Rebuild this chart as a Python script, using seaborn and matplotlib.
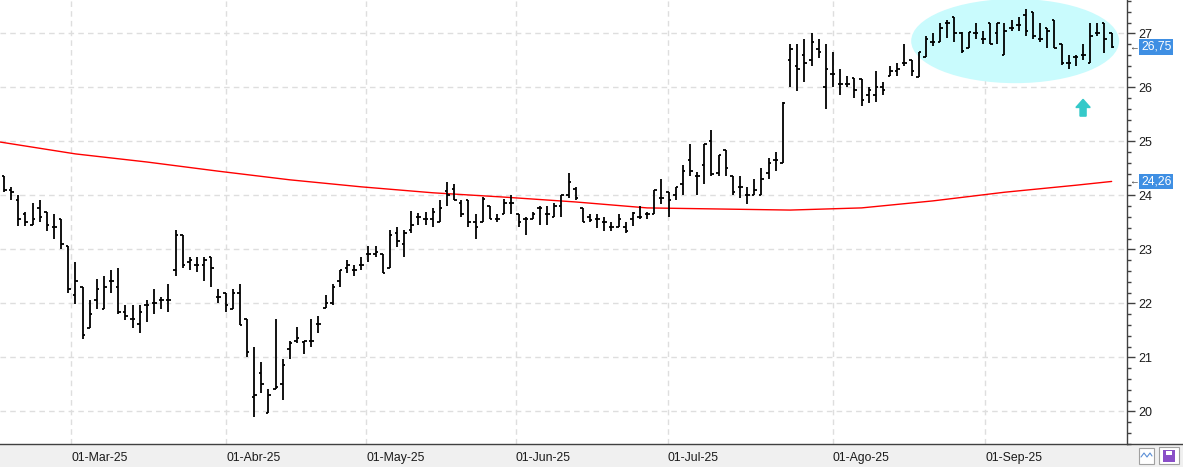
import matplotlib
matplotlib.use("Agg")
import matplotlib.pyplot as plt
import matplotlib.transforms as mtransforms
from matplotlib.patches import Ellipse, Rectangle
import numpy as np
import pandas as pd
import seaborn as sns

# daily OHLC bars (trading-day index 0..155)
opens = [24.36, 24.10, 23.92, 23.66, 23.46, 23.76, 23.70, 23.41, 23.56, 23.06,
         22.15, 22.31, 21.55, 22.07, 21.90, 22.41, 22.31, 21.85, 21.71, 21.62,
         21.97, 22.00, 22.07, 22.07, 22.62, 23.26, 22.77, 22.71, 22.71, 22.86,
         22.12, 22.20, 21.90, 22.20, 21.71, 20.26, 20.71, 19.97, 20.41, 20.51,
         21.15, 21.30, 21.28, 21.31, 21.62, 21.91, 22.00, 22.41, 22.65, 22.62,
         22.71, 22.91, 22.91, 22.91, 22.65, 23.31, 23.11, 23.36, 23.61, 23.56,
         23.56, 23.50, 24.09, 24.12, 23.87, 23.92, 23.50, 23.50, 23.81, 23.56,
         23.66, 23.87, 23.66, 23.56, 23.56, 23.76, 23.66, 23.60, 23.81, 24.01,
         24.12, 23.76, 23.60, 23.56, 23.50, 23.42, 23.41, 23.42, 23.56, 23.60,
         23.65, 23.65, 23.95, 24.06, 24.01, 24.21, 24.66, 24.36, 24.56, 25.00,
         24.41, 24.85, 24.36, 24.15, 24.01, 24.01, 24.01, 24.41, 24.66, 24.60,
         26.51, 26.39, 26.60, 26.51, 26.71, 26.00, 26.25, 26.06, 26.06, 26.17,
         26.15, 25.86, 25.86, 26.00, 26.21, 26.31, 26.46, 26.51, 26.20, 26.56,
         26.85, 26.85, 27.20, 27.31, 27.00, 26.74, 27.00, 26.89, 27.20, 27.00,
         26.60, 27.10, 27.15, 27.34, 27.40, 26.89, 27.10, 27.25, 26.81, 26.46,
         26.56, 26.60, 26.45, 27.00, 27.20, 27.00]
highs = [24.36, 24.15, 24.01, 23.70, 23.86, 23.91, 23.70, 23.65, 23.56, 23.06,
         22.77, 22.31, 22.07, 22.46, 22.51, 22.62, 22.66, 21.97, 21.97, 21.97,
         22.07, 22.27, 22.12, 22.36, 23.36, 23.26, 22.86, 22.86, 22.86, 22.86,
         22.27, 22.20, 22.27, 22.36, 21.71, 21.20, 20.92, 20.41, 21.71, 20.97,
         21.30, 21.56, 21.31, 21.71, 21.77, 22.16, 22.36, 22.62, 22.81, 22.71,
         22.86, 23.07, 23.07, 22.91, 23.36, 23.41, 23.36, 23.71, 23.67, 23.70,
         23.76, 23.92, 24.25, 24.21, 23.91, 23.92, 23.66, 23.97, 23.81, 23.66,
         23.93, 24.01, 23.66, 23.60, 23.70, 23.81, 23.81, 23.87, 24.01, 24.41,
         24.16, 23.76, 23.65, 23.65, 23.60, 23.50, 23.65, 23.50, 23.70, 23.80,
         23.70, 24.10, 24.30, 24.06, 24.15, 24.56, 24.95, 24.44, 24.95, 25.21,
         24.75, 24.85, 24.36, 24.36, 24.15, 24.30, 24.50, 24.70, 24.81, 25.74,
         26.81, 26.81, 26.89, 27.00, 26.89, 26.81, 26.66, 26.35, 26.21, 26.17,
         26.15, 26.00, 26.31, 26.11, 26.40, 26.46, 26.81, 26.51, 26.66, 26.95,
         27.00, 27.20, 27.25, 27.31, 27.03, 27.03, 27.20, 27.05, 27.20, 27.20,
         27.20, 27.25, 27.31, 27.45, 27.40, 27.20, 27.10, 27.25, 26.81, 26.60,
         26.60, 26.81, 27.20, 27.20, 27.20, 27.00]
lows = [24.06, 23.91, 23.44, 23.44, 23.46, 23.50, 23.35, 23.20, 23.00, 22.20,
        21.99, 21.35, 21.55, 21.90, 21.90, 22.20, 21.80, 21.70, 21.55, 21.46,
        21.65, 21.80, 21.90, 21.85, 22.50, 22.66, 22.62, 22.59, 22.41, 22.30,
        22.00, 21.85, 21.90, 21.61, 21.00, 19.90, 20.35, 19.97, 20.41, 20.21,
        20.97, 21.26, 21.06, 21.20, 21.46, 21.91, 21.97, 22.30, 22.56, 22.50,
        22.62, 22.76, 22.86, 22.56, 22.65, 23.05, 22.86, 23.30, 23.46, 23.46,
        23.41, 23.50, 23.81, 23.92, 23.60, 23.41, 23.20, 23.50, 23.56, 23.50,
        23.66, 23.66, 23.41, 23.26, 23.56, 23.46, 23.46, 23.60, 23.60, 23.96,
        23.92, 23.50, 23.50, 23.40, 23.35, 23.35, 23.41, 23.30, 23.44, 23.56,
        23.56, 23.65, 23.85, 23.60, 23.92, 24.01, 24.36, 24.01, 24.21, 24.36,
        24.36, 24.36, 24.01, 23.95, 23.85, 24.01, 24.01, 24.30, 24.45, 24.60,
        26.00, 25.94, 26.11, 26.39, 26.54, 25.60, 26.00, 25.86, 26.00, 25.80,
        25.66, 25.71, 25.74, 25.86, 26.21, 26.21, 26.39, 26.21, 26.20, 26.56,
        26.76, 26.85, 26.91, 26.85, 26.64, 26.74, 26.89, 26.81, 26.81, 26.81,
        26.60, 27.05, 27.05, 26.95, 26.89, 26.85, 26.74, 26.74, 26.42, 26.35,
        26.39, 26.51, 26.45, 26.95, 26.64, 26.74]
closes = [24.10, 24.07, 23.56, 23.50, 23.56, 23.60, 23.46, 23.41, 23.11, 22.26,
          22.41, 21.42, 21.80, 22.27, 22.31, 22.41, 21.85, 21.76, 21.71, 21.85,
          21.97, 22.00, 22.07, 22.07, 23.26, 22.71, 22.80, 22.71, 22.80, 22.65,
          22.12, 21.97, 22.20, 21.61, 21.11, 20.30, 20.51, 20.31, 20.46, 20.86,
          21.26, 21.36, 21.31, 21.31, 21.62, 22.00, 22.30, 22.62, 22.71, 22.62,
          22.71, 22.91, 22.95, 22.56, 23.26, 23.16, 23.31, 23.46, 23.61, 23.56,
          23.70, 23.76, 24.01, 23.92, 23.66, 23.50, 23.41, 23.93, 23.56, 23.56,
          23.87, 23.87, 23.50, 23.56, 23.66, 23.76, 23.66, 23.81, 24.01, 24.25,
          23.96, 23.50, 23.55, 23.56, 23.50, 23.42, 23.56, 23.35, 23.67, 23.60,
          23.65, 24.10, 23.95, 23.92, 24.15, 24.45, 24.45, 24.36, 24.95, 24.40,
          24.75, 24.50, 24.06, 24.15, 24.01, 24.10, 24.30, 24.60, 24.66, 25.72,
          26.71, 26.35, 26.46, 26.85, 26.66, 26.35, 26.25, 26.06, 26.06, 25.95,
          25.76, 25.95, 26.00, 25.95, 26.31, 26.35, 26.46, 26.31, 26.66, 26.89,
          26.85, 27.10, 27.20, 27.00, 26.68, 27.03, 27.00, 26.89, 26.81, 27.20,
          27.05, 27.10, 27.15, 27.05, 26.95, 26.89, 27.05, 26.74, 26.46, 26.46,
          26.56, 26.60, 26.95, 27.00, 26.89, 26.75]

# red moving average, sampled along the bars
ma_idx = [-0.56, 10, 20, 30, 40, 50, 60, 70, 80, 90, 100, 110, 120, 130, 140, 150, 155]
ma_val = [24.99, 24.77, 24.62, 24.45, 24.29, 24.16, 24.05, 23.97, 23.88, 23.77,
          23.75, 23.73, 23.77, 23.90, 24.06, 24.19, 24.26]

month_labels = ["01-Mar-25", "01-Abr-25", "01-May-25", "01-Jun-25",
                "01-Jul-25", "01-Ago-25", "01-Sep-25"]
month_pos = [9.4, 31.1, 50.7, 71.6, 92.9, 116.0, 137.3]

last_price = 26.75
ma_last = 24.26

W, H = 1183, 467
sns.set_style("white")
plt.rcParams["font.family"] = ["Liberation Sans", "DejaVu Sans"]

fig = plt.figure(figsize=(W / 100, H / 100), dpi=100)
fig.patches.append(Rectangle((0, 0), 1, 23 / H, transform=fig.transFigure,
                             facecolor="#f0f0f0", edgecolor="none", zorder=-5))
ax = fig.add_axes([0, 23 / H, 1127 / W, 444 / H])
ax.set_facecolor("white")
ax.set_zorder(2)

df = pd.DataFrame({"o": opens, "h": highs, "l": lows, "c": closes})
df["i"] = np.arange(len(df))

# highlight ellipse + arrow
ax.add_patch(Ellipse((141.5, 26.86), 29.1, 1.56, facecolor="#c9fbfd",
                     edgecolor="none", zorder=1))
ax.arrow(151.0, 25.47, 0, 0.31, width=0.85, head_width=2.0, head_length=0.15,
         length_includes_head=True, color="#35c9c9", zorder=3)

# OHLC bars
ax.vlines(df["i"], df["l"], df["h"], color="black", lw=1.3, zorder=4)
ax.hlines(df["o"], df["i"] - 0.35, df["i"], color="black", lw=1.3, zorder=4)
ax.hlines(df["c"], df["i"], df["i"] + 0.35, color="black", lw=1.3, zorder=4)

ma = pd.DataFrame({"i": ma_idx, "v": ma_val})
sns.lineplot(data=ma, x="i", y="v", color="#ff0000", lw=1.0, ax=ax, zorder=3)

ax.set_xlim(-0.56, 157.15)
ax.set_ylim(19.398, 27.62)
ax.set_xlabel("")
ax.set_ylabel("")

ax.yaxis.tick_right()
ax.set_yticks(range(20, 28))
ax.set_yticks(np.arange(19.4, 27.7, 0.2), minor=True)
ax.set_xticks(month_pos)
ax.set_xticklabels(month_labels, ha="left")
ax.tick_params(axis="y", which="major", length=6, width=1, color="#404040",
               labelsize=9, pad=2, labelcolor="#1a1a1a")
ax.tick_params(axis="y", which="minor", length=3, width=1, color="#404040")
ax.tick_params(axis="x", length=4.5, width=1, color="#404040", labelsize=8.8,
               pad=1, labelcolor="#1a1a1a")

ax.grid(True, which="major", color="#dedede", ls=(0, (4, 3)), lw=1)
for s in ["left", "top"]:
    ax.spines[s].set_visible(False)
for s in ["right", "bottom"]:
    ax.spines[s].set_color("#404040")
    ax.spines[s].set_linewidth(1)

# bottom axis line continues under the price panel
fig.add_artist(plt.Line2D([1127 / W, 1], [23 / H, 23 / H], color="#404040",
                          lw=1, transform=fig.transFigure))

# price tags on the right axis
tr = mtransforms.blended_transform_factory(ax.transAxes, ax.transData)
for val in [last_price, ma_last]:
    ax.text(1.0125, val, f"{val:.2f}".replace(".", ","), transform=tr,
            ha="left", va="center", color="white", fontsize=8.8, clip_on=False,
            zorder=6, bbox=dict(boxstyle="square,pad=0.15", facecolor="#3f8fe3",
                                edgecolor="none"))
    ax.text(1.0015, val, "\u2190", transform=tr, ha="left", va="center",
            color="#404040", fontsize=7, clip_on=False)

# small toolbar icons bottom right
fig.patches.append(Rectangle((1139 / W, 3 / H), 15 / W, 16 / H,
                             transform=fig.transFigure, facecolor="white",
                             edgecolor="#a0a0a0", lw=0.8))
fig.add_artist(plt.Line2D(np.array([1141, 1144, 1147, 1150, 1152]) / W,
                          np.array([10, 14, 10, 14, 11]) / H, color="#5b8fd6",
                          lw=0.8, transform=fig.transFigure))
fig.patches.append(Rectangle((1159 / W, 3 / H), 20 / W, 17 / H,
                             transform=fig.transFigure, facecolor="white",
                             edgecolor="#a0a0a0", lw=0.8))
fig.patches.append(Rectangle((1163 / W, 5 / H), 12 / W, 12 / H,
                             transform=fig.transFigure, facecolor="#8a4fc8",
                             edgecolor="none"))
fig.patches.append(Rectangle((1166 / W, 12 / H), 6 / W, 4 / H,
                             transform=fig.transFigure, facecolor="white",
                             edgecolor="none"))

fig.savefig("out.png", dpi=100, facecolor="white")
